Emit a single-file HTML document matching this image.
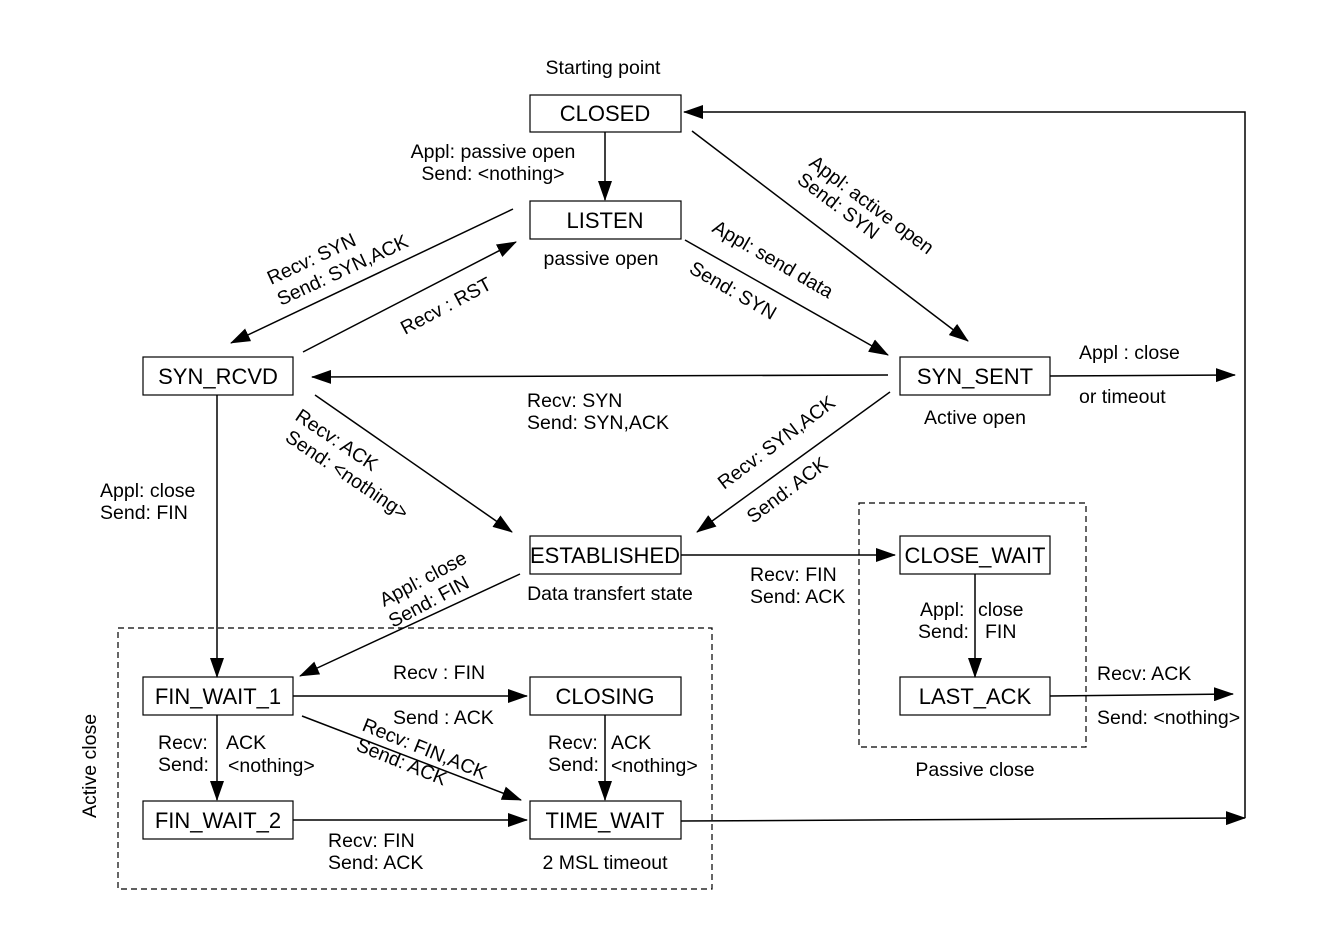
<!DOCTYPE html>
<html><head><meta charset="utf-8"><style>
html,body{margin:0;padding:0;background:#fff;}
svg{display:block;font-family:"Liberation Sans",Arial,sans-serif;font-size:19.5px;}
</style></head><body>
<svg width="1321" height="934" viewBox="0 0 1321 934" xmlns="http://www.w3.org/2000/svg">
<defs>
<marker id="a" markerWidth="20" markerHeight="14" refX="19" refY="7" orient="auto" markerUnits="userSpaceOnUse">
<path d="M0,0 L20,7 L0,14 z" fill="#000"/></marker>
</defs>
<g fill="none" stroke="#000" stroke-width="1.5">
<rect x="118" y="628" width="594" height="261" stroke-dasharray="6,4" stroke-width="1.2"/>
<rect x="859" y="503" width="227" height="244" stroke-dasharray="6,4" stroke-width="1.2"/>
<rect x="530" y="95" width="151" height="37" stroke-width="1.2"/>
<rect x="530" y="201" width="151" height="38" stroke-width="1.2"/>
<rect x="143" y="357" width="150" height="38" stroke-width="1.2"/>
<rect x="900" y="357" width="150" height="38" stroke-width="1.2"/>
<rect x="530" y="536" width="151" height="38" stroke-width="1.2"/>
<rect x="900" y="536" width="150" height="38" stroke-width="1.2"/>
<rect x="143" y="677" width="150" height="38" stroke-width="1.2"/>
<rect x="530" y="677" width="151" height="38" stroke-width="1.2"/>
<rect x="900" y="677" width="150" height="38" stroke-width="1.2"/>
<rect x="143" y="801" width="150" height="38" stroke-width="1.2"/>
<rect x="530" y="801" width="151" height="38" stroke-width="1.2"/>
</g>
<g stroke="#000" stroke-width="1.5" fill="none" marker-end="url(#a)">
<line x1="605" y1="132" x2="605" y2="200"/>
<line x1="513" y1="209" x2="231" y2="343"/>
<line x1="303" y1="352" x2="516" y2="242"/>
<line x1="692" y1="131" x2="968" y2="341"/>
<line x1="685" y1="240" x2="888" y2="355"/>
<line x1="888" y1="375" x2="312" y2="377"/>
<line x1="315" y1="395" x2="512" y2="532"/>
<line x1="890" y1="392" x2="697" y2="532"/>
<line x1="217" y1="395" x2="217" y2="677"/>
<line x1="520" y1="574" x2="300" y2="676"/>
<line x1="681" y1="555" x2="895" y2="555"/>
<line x1="975" y1="574" x2="975" y2="677"/>
<line x1="1050" y1="696" x2="1233" y2="694"/>
<line x1="1050" y1="376" x2="1235" y2="375"/>
<line x1="293" y1="696" x2="527" y2="696"/>
<line x1="302" y1="716" x2="521" y2="800"/>
<line x1="605" y1="715" x2="605" y2="800"/>
<line x1="217" y1="715" x2="217" y2="800"/>
<line x1="293" y1="820" x2="527" y2="820"/>
<line x1="681" y1="821" x2="1245" y2="818"/>
<polyline points="1245,818 1245,112 684,112"/>
</g>
<g fill="#000">
<text x="603" y="74" text-anchor="middle">Starting point</text>
<g font-size="22">
<text x="605" y="121" text-anchor="middle">CLOSED</text>
<text x="605" y="228" text-anchor="middle">LISTEN</text>
<text x="218" y="384" text-anchor="middle">SYN_RCVD</text>
<text x="975" y="384" text-anchor="middle">SYN_SENT</text>
<text x="605" y="563" text-anchor="middle">ESTABLISHED</text>
<text x="975" y="563" text-anchor="middle">CLOSE_WAIT</text>
<text x="218" y="704" text-anchor="middle">FIN_WAIT_1</text>
<text x="605" y="704" text-anchor="middle">CLOSING</text>
<text x="975" y="704" text-anchor="middle">LAST_ACK</text>
<text x="218" y="828" text-anchor="middle">FIN_WAIT_2</text>
<text x="605" y="828" text-anchor="middle">TIME_WAIT</text>
</g>
<text x="493" y="158" text-anchor="middle">Appl: passive open</text>
<text x="493" y="180" text-anchor="middle">Send: &lt;nothing&gt;</text>
<text x="601" y="265" text-anchor="middle">passive open</text>
<text x="975" y="424" text-anchor="middle">Active open</text>
<text x="1079" y="359">Appl : close</text>
<text x="1079" y="403">or timeout</text>
<text x="527" y="407">Recv: SYN</text>
<text x="527" y="429">Send: SYN,ACK</text>
<text x="100" y="497">Appl: close</text>
<text x="100" y="519">Send: FIN</text>
<text x="610" y="600" text-anchor="middle">Data transfert state</text>
<text x="750" y="581">Recv: FIN</text>
<text x="750" y="603">Send: ACK</text>
<text x="920" y="616">Appl:</text>
<text x="918" y="638">Send:</text>
<text x="978" y="616">close</text>
<text x="985" y="638">FIN</text>
<text x="1097" y="680">Recv: ACK</text>
<text x="1097" y="724">Send: &lt;nothing&gt;</text>
<text x="975" y="776" text-anchor="middle">Passive close</text>
<text x="393" y="679">Recv : FIN</text>
<text x="393" y="724">Send : ACK</text>
<text x="158" y="749">Recv:</text>
<text x="158" y="771">Send:</text>
<text x="226" y="749">ACK</text>
<text x="228" y="772">&lt;nothing&gt;</text>
<text x="548" y="749">Recv:</text>
<text x="548" y="771">Send:</text>
<text x="611" y="749">ACK</text>
<text x="611" y="772">&lt;nothing&gt;</text>
<text x="328" y="847">Recv: FIN</text>
<text x="328" y="869">Send: ACK</text>
<text x="605" y="869" text-anchor="middle">2 MSL timeout</text>
<text transform="translate(96,818) rotate(-90)">Active close</text>

<text transform="translate(271,285) rotate(-25)">Recv: SYN</text>
<text transform="translate(281,306) rotate(-25)">Send: SYN,ACK</text>
<text transform="translate(405,335) rotate(-28)">Recv : RST</text>
<text transform="translate(808,165) rotate(37)">Appl: active open</text>
<text transform="translate(796,182) rotate(37)">Send: SYN</text>
<text transform="translate(711,231) rotate(30)">Appl: send data</text>
<text transform="translate(688,272) rotate(30)">Send: SYN</text>
<text transform="translate(294,419) rotate(34)">Recv: ACK</text>
<text transform="translate(284,440) rotate(34)">Send: &lt;nothing&gt;</text>
<text transform="translate(724,490) rotate(-37)">Recv: SYN,ACK</text>
<text transform="translate(753,524) rotate(-37)">Send: ACK</text>
<text transform="translate(384,607) rotate(-28)">Appl: close</text>
<text transform="translate(393,628) rotate(-28)">Send: FIN</text>
<text transform="translate(361,730) rotate(22)">Recv: FIN,ACK</text>
<text transform="translate(355,750) rotate(22)">Send: ACK</text>
</g>
</svg>
</body></html>
